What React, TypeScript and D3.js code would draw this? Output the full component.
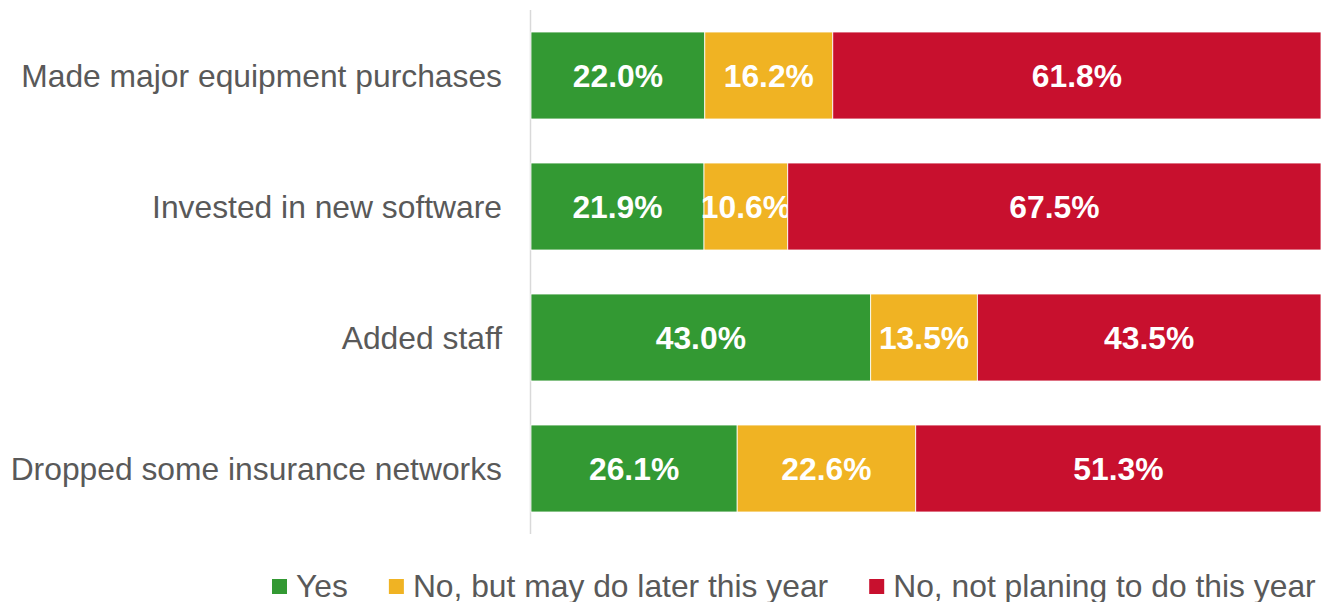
import React, { useEffect, useRef } from "react";
import * as d3 from "d3";

const categories = [
  "Made major equipment purchases",
  "Invested in new software",
  "Added staff",
  "Dropped some insurance networks",
];
const seriesNames = ["Yes", "No, but may do later this year", "No, not planing to do this year"];
const yesValues = [22.0, 21.9, 43.0, 26.1];
const laterValues = [16.2, 10.6, 13.5, 22.6];
const notValues = [61.8, 67.5, 43.5, 51.3];
const colors = ["#339933", "#f0b323", "#c8102e"];

const W = 1321;
const H = 602;
const FONT = "'Liberation Sans', Arial, sans-serif";

const App = () => {
  const svgRef = useRef<SVGSVGElement>(null);

  useEffect(() => {
    const svg = d3.select(svgRef.current);
    svg.selectAll("*").remove();

    const rows = categories.map((c, i) => ({
      cat: c,
      vals: [yesValues[i], laterValues[i], notValues[i]],
    }));

    const x = d3.scaleLinear().domain([0, 100]).range([531, 1321]);
    const y = d3
      .scaleBand()
      .domain(categories)
      .range([10, 534])
      .paddingInner(0.336)
      .paddingOuter(0.168);

    // axis line
    svg
      .append("line")
      .attr("x1", 530.5)
      .attr("x2", 530.5)
      .attr("y1", 10)
      .attr("y2", 534)
      .attr("stroke", "#d9d9d9")
      .attr("stroke-width", 1.5);

    const g = svg.append("g");
    rows.forEach((r) => {
      let acc = 0;
      r.vals.forEach((v, j) => {
        const x0 = x(acc);
        const x1 = x(acc + v);
        acc += v;
        g.append("rect")
          .attr("x", x0)
          .attr("y", y(r.cat)!)
          .attr("width", x1 - x0)
          .attr("height", y.bandwidth())
          .attr("fill", colors[j])
          .attr("stroke", "white")
          .attr("stroke-width", 0.8);
        g.append("text")
          .attr("x", (x0 + x1) / 2)
          .attr("y", y(r.cat)! + y.bandwidth() / 2)
          .attr("dy", "0.35em")
          .attr("text-anchor", "middle")
          .attr("fill", "white")
          .attr("font-family", FONT)
          .attr("font-weight", "bold")
          .attr("font-size", "31.8px")
          .text(v.toFixed(1) + "%");
      });
    });

    // category labels
    svg
      .append("g")
      .selectAll("text")
      .data(categories)
      .join("text")
      .attr("x", 502)
      .attr("y", (d) => y(d)! + y.bandwidth() / 2)
      .attr("dy", "0.35em")
      .attr("text-anchor", "end")
      .attr("fill", "#595959")
      .attr("font-family", FONT)
      .attr("font-size", "31.8px")
      .text((d) => d);

    // legend
    const legend = svg.append("g");
    let lx = 272;
    seriesNames.forEach((name, i) => {
      legend
        .append("rect")
        .attr("x", lx)
        .attr("y", 579)
        .attr("width", 15)
        .attr("height", 15)
        .attr("fill", colors[i]);
      const t = legend
        .append("text")
        .attr("x", lx + 24)
        .attr("y", 585.5)
        .attr("dy", "0.35em")
        .attr("fill", "#595959")
        .attr("font-family", FONT)
        .attr("font-size", "31.8px")
        .text(name);
      const len = (t.node() as SVGTextElement).getComputedTextLength();
      lx += 24 + len + 41;
    });
  }, []);

  return (
    <svg
      ref={svgRef}
      width={W}
      height={H}
      style={{ position: "absolute", left: 0, top: 0, background: "white" }}
    ></svg>
  );
};

export default App;
